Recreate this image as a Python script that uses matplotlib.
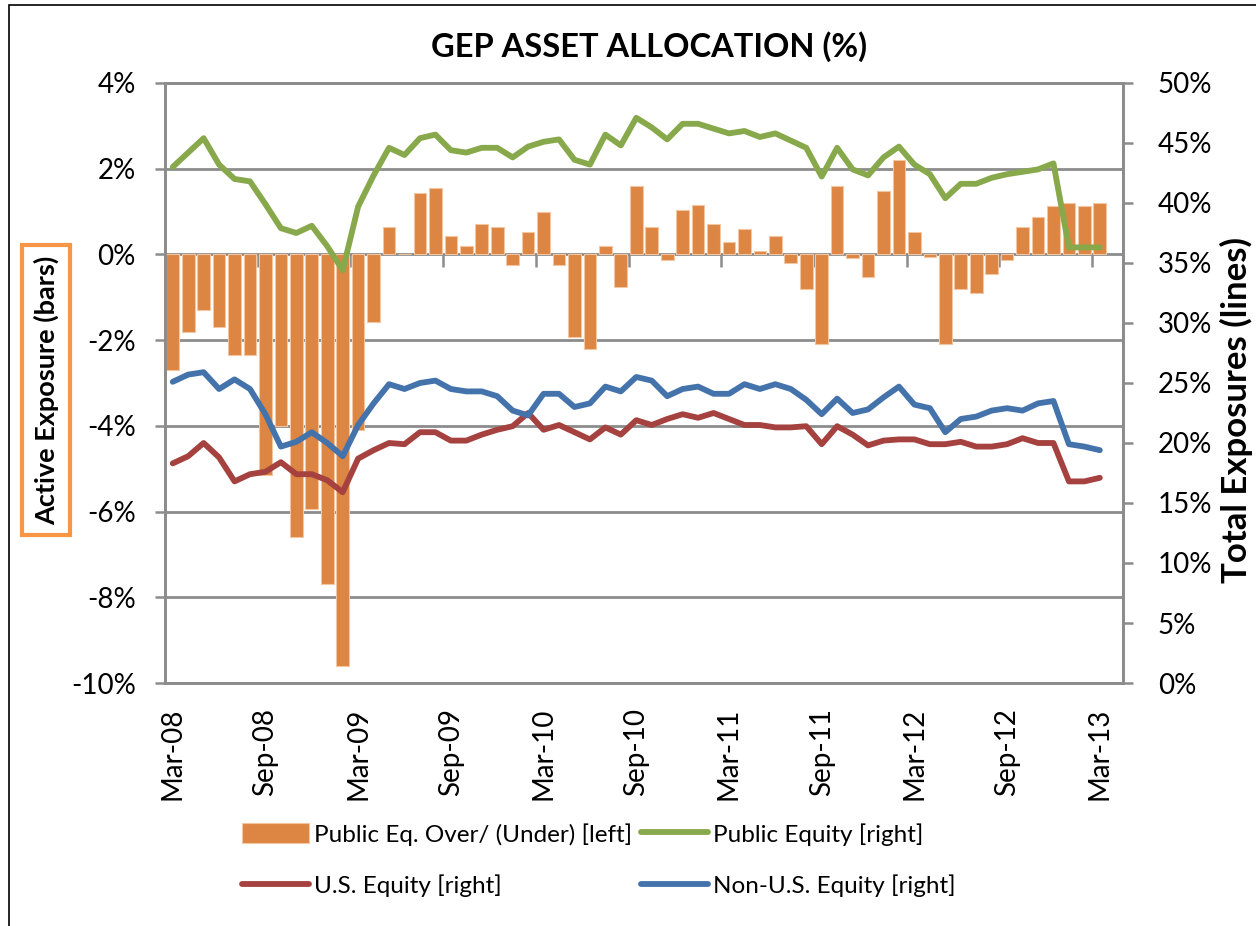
import matplotlib
matplotlib.use('Agg')
import matplotlib.pyplot as plt
import numpy as np
import pandas as pd
from matplotlib.patches import Rectangle
from matplotlib.ticker import FuncFormatter

plt.rcParams['font.family'] = ['Lato', 'DejaVu Sans']

# monthly data, Mar-08 .. Mar-13
months = pd.date_range('2008-03-01', periods=61, freq='MS').strftime('%b-%y').tolist()

over_under = [-2.7, -1.8, -1.3, -1.7, -2.35, -2.35, -5.15, -4.0, -6.6, -5.95,
              -7.7, -9.6, -4.1, -1.57, 0.65, 0.0, 1.43, 1.55, 0.42, 0.2,
              0.7, 0.64, -0.24, 0.53, 0.98, -0.24, -1.93, -2.2, 0.2, -0.75,
              1.6, 0.64, -0.14, 1.04, 1.15, 0.7, 0.3, 0.59, 0.08, 0.42,
              -0.19, -0.8, -2.1, 1.6, -0.08, -0.53, 1.48, 2.2, 0.53, -0.06,
              -2.1, -0.8, -0.9, -0.46, -0.13, 0.64, 0.87, 1.14, 1.2, 1.14,
              1.2]

public_equity = [43.0, 44.2, 45.4, 43.2, 42.0, 41.8, 39.9, 37.9, 37.5, 38.1,
                 36.4, 34.4, 39.7, 42.3, 44.6, 44.0, 45.4, 45.7, 44.4, 44.2,
                 44.6, 44.6, 43.8, 44.7, 45.1, 45.3, 43.6, 43.2, 45.7, 44.8,
                 47.1, 46.3, 45.3, 46.6, 46.6, 46.2, 45.8, 46.0, 45.5, 45.8,
                 45.2, 44.6, 42.2, 44.6, 42.8, 42.3, 43.8, 44.7, 43.2, 42.4,
                 40.4, 41.6, 41.6, 42.1, 42.4, 42.6, 42.8, 43.3, 36.3, 36.3,
                 36.3]

us_equity = [18.3, 18.9, 20.0, 18.8, 16.8, 17.4, 17.6, 18.4, 17.4, 17.4,
             16.9, 15.9, 18.7, 19.4, 20.0, 19.9, 20.9, 20.9, 20.2, 20.2,
             20.7, 21.1, 21.4, 22.5, 21.1, 21.5, 20.9, 20.3, 21.3, 20.7,
             21.9, 21.5, 22.0, 22.4, 22.1, 22.5, 22.0, 21.5, 21.5, 21.3,
             21.3, 21.4, 19.9, 21.4, 20.7, 19.8, 20.2, 20.3, 20.3, 19.9,
             19.9, 20.1, 19.7, 19.7, 19.9, 20.4, 20.0, 20.0, 16.8, 16.8,
             17.1]

non_us_equity = [25.1, 25.7, 25.9, 24.5, 25.3, 24.5, 22.4, 19.7, 20.1, 20.9,
                 20.0, 18.9, 21.5, 23.3, 24.9, 24.5, 25.0, 25.2, 24.5, 24.3,
                 24.3, 23.9, 22.7, 22.3, 24.1, 24.1, 23.0, 23.3, 24.7, 24.3,
                 25.5, 25.2, 23.9, 24.5, 24.7, 24.1, 24.1, 24.9, 24.5, 24.9,
                 24.5, 23.6, 22.4, 23.7, 22.5, 22.8, 23.8, 24.7, 23.2, 22.9,
                 20.9, 22.0, 22.2, 22.7, 22.9, 22.7, 23.3, 23.5, 19.9, 19.7,
                 19.4]

gray = '#8C8C8C'
c_bar = '#DD8542'
c_green = '#87A84B'
c_red = '#A5423F'
c_blue = '#4473AB'

fig = plt.figure(figsize=(12.56, 9.26), dpi=100)
ax = fig.add_axes([165/1256, 1-683/926, (1123-165)/1256, 600/926])
ax2 = ax.twinx()

x = np.arange(len(months))
bars = ax.bar(x, over_under, width=0.82, color=c_bar, edgecolor='#F3C6A2',
              linewidth=0.8, label='Public Eq. Over/ (Under) [left]')

line_kw = dict(lw=4.2, solid_joinstyle='round', solid_capstyle='round')
l_pub, = ax2.plot(x, public_equity, color=c_green, label='Public Equity [right]', **line_kw)
l_us, = ax2.plot(x, us_equity, color=c_red, label='U.S. Equity [right]', **line_kw)
l_non, = ax2.plot(x, non_us_equity, color=c_blue, label='Non-U.S. Equity [right]', **line_kw)

# x axis: 62 categories (last one empty)
ax.set_xlim(-0.5, 61.5)
ax.set_xticks(x[::6])
ax.set_xticklabels(months[::6], rotation=90, fontsize=20)
ax.tick_params(axis='x', length=0, pad=18)

# tick marks on the zero line between categories
sec = ax.secondary_xaxis(10/14)
sec.set_xticks(np.arange(-0.5, 61, 6))
sec.tick_params(direction='in', length=9, width=1.8, color=gray,
                labeltop=False, labelbottom=False)
for s in sec.spines.values():
    s.set_visible(False)

ax.set_ylim(-10, 4)
ax.set_yticks(range(-10, 5, 2))
ax.yaxis.set_major_formatter(FuncFormatter(lambda v, p: f"{v:.0f}%"))
ax.tick_params(axis='y', direction='out', length=7, width=1.8, color=gray,
               labelsize=20, pad=14)
ax.yaxis.grid(True, color=gray, lw=2)
ax.set_axisbelow(True)

ax2.set_ylim(0, 50)
ax2.set_yticks(range(0, 51, 5))
ax2.yaxis.set_major_formatter(FuncFormatter(lambda v, p: f"{v:.0f}%"))
ax2.tick_params(axis='y', direction='out', length=7, width=1.8, color=gray,
                labelsize=20, pad=18)

for a in (ax, ax2):
    for s in a.spines.values():
        s.set_color(gray)
        s.set_linewidth(2)

fig.text(649/1256, 1-47/926, 'GEP ASSET ALLOCATION (%)', ha='center', va='center',
         fontsize=23.5, fontweight='bold')

fig.text(46/1256, 1-390/926, 'Active Exposure (bars)', rotation=90, ha='center',
         va='center', fontsize=19.5, fontweight='bold',
         bbox=dict(boxstyle='square,pad=0.4', fc='white', ec='#F79646', lw=3))
fig.text(1236/1256, 1-410/926, 'Total Exposures (lines)', rotation=90, ha='center',
         va='center', fontsize=25, fontweight='bold')

fig.legend([bars, l_us, l_pub, l_non],
           [bars.get_label(), l_us.get_label(), l_pub.get_label(), l_non.get_label()],
           ncol=2, frameon=False, fontsize=17.5, loc='upper left',
           bbox_to_anchor=(242/1256, 1-823/926), borderaxespad=0, borderpad=0,
           handlelength=2.76, handleheight=0.9, handletextpad=0.2,
           columnspacing=0.37, labelspacing=1.18)

fig.add_artist(Rectangle((9/1256, -0.1), 2, 1.1-5/926, transform=fig.transFigure,
                         fill=False, ec='black', lw=1.2))

fig.savefig('out.png', dpi=100)
